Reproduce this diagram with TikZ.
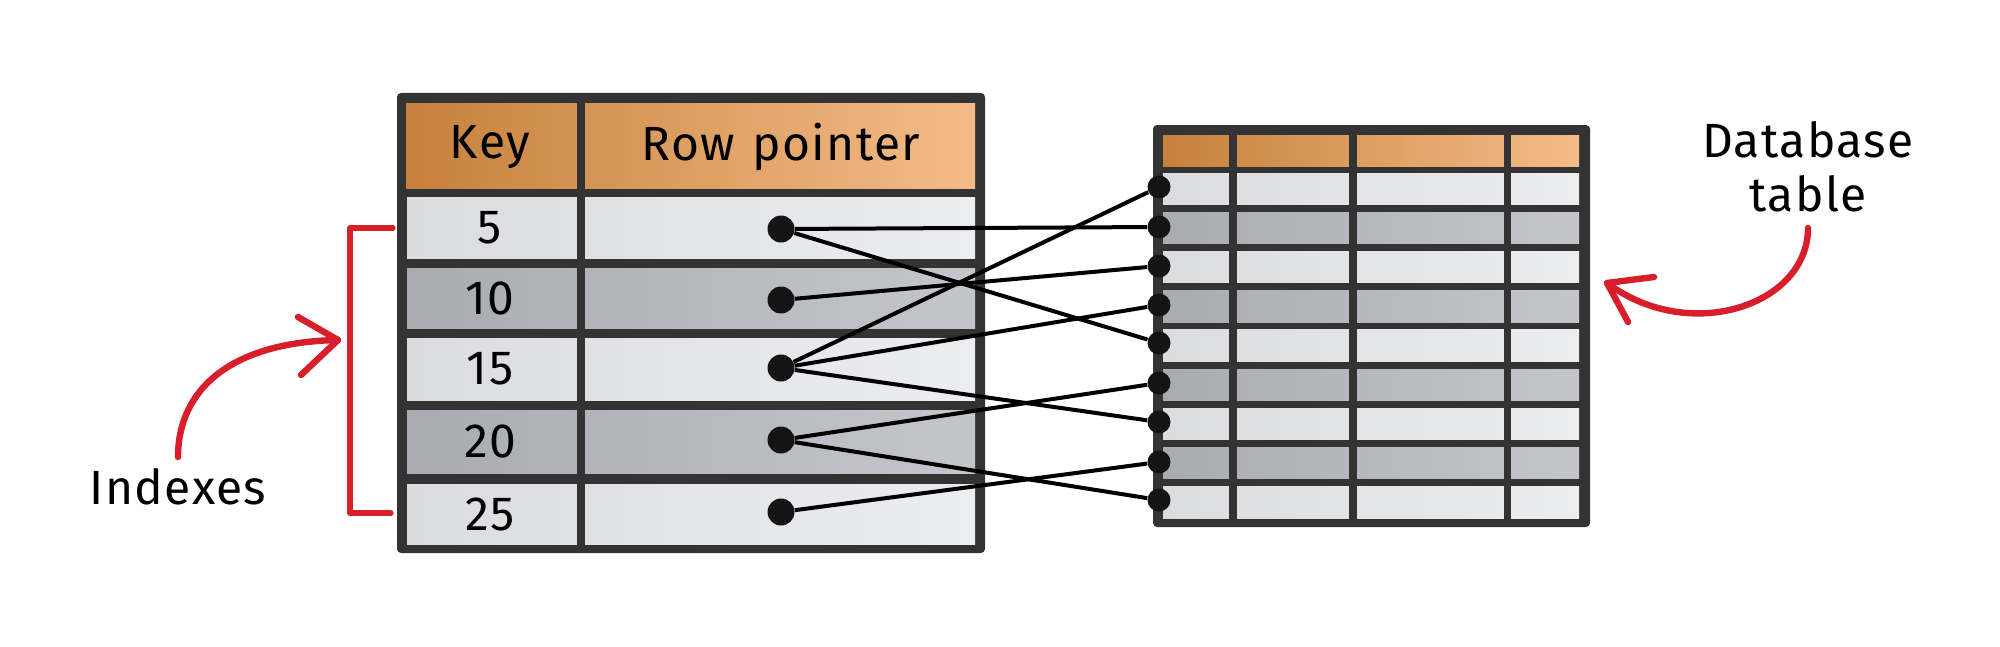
\documentclass[tikz,border=0pt]{standalone}
\usepackage{fontspec}
\setmainfont[LetterSpace=3]{Fira Sans}
\definecolor{bord}{HTML}{333333}
\definecolor{orD}{HTML}{C6813C}
\definecolor{orL}{HTML}{F4BC88}
\definecolor{liteL}{HTML}{DBDCE0}
\definecolor{liteR}{HTML}{ECEDF0}
\definecolor{darkL}{HTML}{A9ABB3}
\definecolor{darkR}{HTML}{C4C6CC}
\definecolor{redc}{HTML}{D81E2A}
\begin{document}
\begin{tikzpicture}[x=0.5pt,y=-0.5pt,
  lbl/.style={font=\fontsize{24}{28}\selectfont, text=black, inner sep=0pt},
  hdr/.style={left color=orD, right color=orL},
  lite/.style={left color=liteL, right color=liteR},
  dark/.style={left color=darkL, right color=darkR},
  dotL/.style={circle, fill=black!92, inner sep=0pt, minimum size=13.5pt},
  dotR/.style={circle, fill=black!92, inner sep=0pt, minimum size=11.5pt},
  conn/.style={draw=black, line width=2pt},
  redline/.style={draw=redc, line width=2.6pt, line cap=round, line join=round},
  redarrow/.style={draw=redc, line width=3.2pt, line cap=round, line join=round}]
\useasboundingbox (0,0) rectangle (2000,647);
\fill[white] (0,0) rectangle (2000,647);

% ---------- left table (index) ----------
\fill[bord, rounded corners=2pt] (397,93) rectangle (985,553);
\fill[hdr] (406,104) rectangle (975,188);
\fill[lite] (407,197) rectangle (975,258);
\fill[dark] (407,268) rectangle (975,328);
\fill[lite] (407,338) rectangle (975,400);
\fill[dark] (407,410) rectangle (975,473);
\fill[lite] (407,484) rectangle (975,544);
\fill[bord] (577,100) rectangle (585,548);

\node[lbl] (hkey) at (490,147) {Key};
\node[lbl] (hptr) at (781,147) {Row\hspace{0.35em}pointer};
\node[lbl] (k5)  at (490,228) {5};
\node[lbl] (k10) at (490,298) {10};
\node[lbl] (k15) at (490,369) {15};
\node[lbl] (k20) at (490,441) {20};
\node[lbl] (k25) at (490,514) {25};

\node[dotL] (p5)  at (781,229) {};
\node[dotL] (p10) at (781,300) {};
\node[dotL] (p15) at (781,368) {};
\node[dotL] (p20) at (781,440) {};
\node[dotL] (p25) at (781,512) {};

% ---------- right table (database) ----------
\fill[bord, rounded corners=2pt] (1153,125) rectangle (1590,527);
\fill[hdr] (1163,135) rectangle (1579,166);
\foreach \i in {0,...,8}{
  \pgfmathsetmacro{\t}{173+39.2*\i}
  \pgfmathsetmacro{\b}{\t+31.5}
  \ifodd\i
    \fill[dark] (1163,\t) rectangle (1579,\b);
  \else
    \fill[lite] (1163,\t) rectangle (1579,\b);
  \fi
}
\fill[bord] (1229,130) rectangle (1237,522);
\fill[bord] (1349,130) rectangle (1357,522);
\fill[bord] (1504,130) rectangle (1511,522);

\node[dotR] (r1) at (1159,187) {};
\node[dotR] (r2) at (1159,227) {};
\node[dotR] (r3) at (1159,266) {};
\node[dotR] (r4) at (1159,305) {};
\node[dotR] (r5) at (1159,343) {};
\node[dotR] (r6) at (1159,383) {};
\node[dotR] (r7) at (1159,422) {};
\node[dotR] (r8) at (1159,462) {};
\node[dotR] (r9) at (1159,500) {};

% ---------- pointers ----------
\draw[conn] (p5) -- (r2);
\draw[conn] (p5) -- (r5);
\draw[conn] (p10) -- (r3);
\draw[conn] (p15) -- (r1);
\draw[conn] (p15) -- (r4);
\draw[conn] (p15) -- (r7);
\draw[conn] (p20) -- (r6);
\draw[conn] (p20) -- (r9);
\draw[conn] (p25) -- (r8);

% ---------- Indexes annotation ----------
\coordinate (bt1) at (393,228);
\coordinate (bt2) at (350,228);
\coordinate (bb2) at (350,513);
\coordinate (bb1) at (391,513);
\draw[redline] (bt1) -- (bt2) -- (bb2) -- (bb1);

\node[lbl] (idx) at (178,487) {Indexes};
\coordinate (ia) at (178,457);
\coordinate (ib) at (338,340);
\draw[redarrow] (ia) .. controls (178,390) and (230,342) .. (ib);
\draw[redarrow] (298,317) -- (ib) -- (301,375);

% ---------- Database table annotation ----------
\node[lbl] (db1) at (1808,140) {Database};
\node[lbl] (db2) at (1808,194) {table};
\coordinate (da) at (1808,228);
\coordinate (dbt) at (1607,283);
\draw[redarrow] (da) .. controls (1808,305) and (1690,345) .. (dbt);
\draw[redarrow] (1654,277) -- (dbt) -- (1628,322);
\end{tikzpicture}
\end{document}
